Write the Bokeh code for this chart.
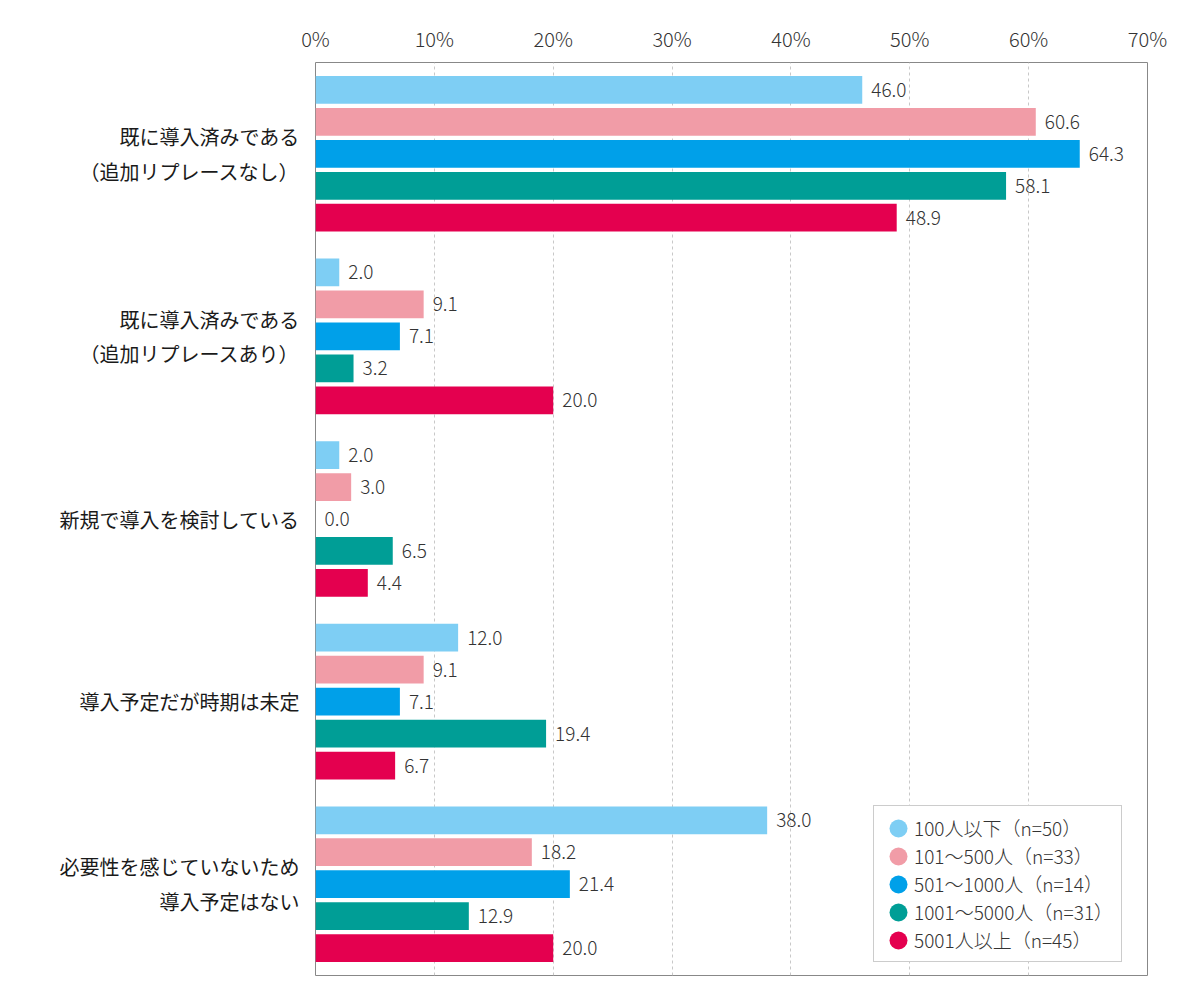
from bokeh.plotting import figure
from bokeh.models import (ColumnDataSource, FactorRange, Range1d, FixedTicker,
                          CustomJSTickFormatter, Legend, LegendItem)
from bokeh.transform import dodge
from bokeh.core.properties import value
from bokeh.embed import file_html
from bokeh.resources import INLINE

categories = [
    "既に導入済みである\n（追加リプレースなし）",
    "既に導入済みである\n（追加リプレースあり）",
    "新規で導入を検討している",
    "導入予定だが時期は未定",
    "必要性を感じていないため\n導入予定はない",
]
series_names = [
    "100人以下（n=50）",
    "101～500人（n=33）",
    "501～1000人（n=14）",
    "1001～5000人（n=31）",
    "5001人以上（n=45）",
]
s1 = [46.0, 2.0, 2.0, 12.0, 38.0]
s2 = [60.6, 9.1, 3.0, 9.1, 18.2]
s3 = [64.3, 7.1, 0.0, 7.1, 21.4]
s4 = [58.1, 3.2, 6.5, 19.4, 12.9]
s5 = [48.9, 20.0, 4.4, 6.7, 20.0]
series_values = [s1, s2, s3, s4, s5]
colors = ["#7ecef4", "#f19ca7", "#00a0e9", "#009e96", "#e4004f"]
x_ticks = [0, 10, 20, 30, 40, 50, 60, 70]

FONT = "'Noto Sans CJK JP Light', 'Noto Sans CJK JP DemiLight', 'Noto Sans CJK JP'"
FONT_REG = "Noto Sans CJK JP"

p = figure(width=1184, height=984, output_backend="svg", toolbar_location=None,
           y_range=FactorRange(factors=list(reversed(categories)), range_padding=0),
           x_range=Range1d(0, 70), x_axis_location="above",
           min_border_left=315, min_border_top=62, min_border_right=37,
           min_border_bottom=9)

pitch = 0.175
bar_h = 0.152
offsets = [2 * pitch, pitch, 0.0, -pitch, -2 * pitch]

for i, (vals, col) in enumerate(zip(series_values, colors)):
    src = ColumnDataSource(dict(cat=categories, v=vals,
                                lbl=["%.1f" % v for v in vals]))
    p.hbar(y=dodge("cat", offsets[i], range=p.y_range), right="v", left=0,
           height=bar_h, source=src, fill_color=col, line_color=None)
    p.text(x="v", y=dodge("cat", offsets[i], range=p.y_range), text="lbl",
           source=src, x_offset=9, text_baseline="middle", text_align="left",
           text_font=value(FONT), text_font_size="19px", text_color="#333333")

# legend proxies: a round-capped zero-length dash gives a round dot
items = []
for name, col in zip(series_names, colors):
    r = p.line(x=[-100, -99], y=[categories[0], categories[0]], line_color=col,
               line_width=18, line_cap="round", line_dash="0 100",
               line_dash_offset=-16)
    items.append(LegendItem(label=name, renderers=[r]))
legend = Legend(items=items, location=(558, 13), label_text_font=FONT,
                label_text_font_size="19px", label_text_color="#333333",
                glyph_width=28, glyph_height=20, label_height=20, spacing=1,
                padding=8, margin=0, border_line_color="#999999",
                label_standoff=4, background_fill_alpha=1.0)
p.add_layout(legend, "center")

# x axis (top)
xa = p.xaxis[0]
xa.ticker = FixedTicker(ticks=x_ticks)
xa.formatter = CustomJSTickFormatter(code="return tick + '%';")
xa.axis_line_color = None
xa.major_tick_line_color = None
xa.minor_tick_line_color = None
xa.major_label_text_font = FONT
xa.major_label_text_font_size = "20px"
xa.major_label_text_color = "#333333"
xa.major_label_standoff = 4

ya = p.yaxis[0]
ya.axis_line_color = None
ya.major_tick_line_color = None
ya.minor_tick_line_color = None
ya.major_label_text_font = FONT_REG
ya.major_label_text_font_size = "20px"
ya.major_label_text_color = "#1a1a1a"
ya.major_label_standoff = 10

p.xgrid.grid_line_color = "#c8c8c8"
p.xgrid.grid_line_dash = "3 3"
p.xgrid.ticker = FixedTicker(ticks=x_ticks)
p.ygrid.grid_line_color = None
p.outline_line_color = "#888888"
p.outline_line_width = 1

open("out.html", "w").write(file_html(p, INLINE))
